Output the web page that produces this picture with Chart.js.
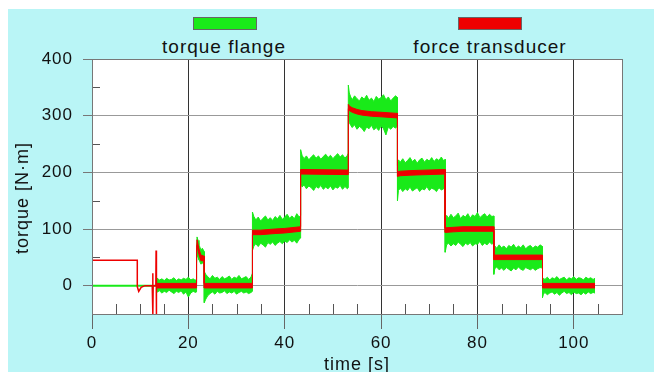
<!DOCTYPE html>
<html>
<head>
<meta charset="utf-8">
<script src="https://cdn.jsdelivr.net/npm/chart.js@4"></script>
<style>
  html, body { margin: 0; padding: 0; background: #fff; width: 654px; height: 372px; overflow: hidden; }
  #panel { position: absolute; left: 8px; top: 9px; width: 646px; height: 363px; background: #b9f5f6; overflow: hidden; }
  #wrap { position: absolute; left: 0; top: 0; width: 646px; height: 367px; }
  .key { position: absolute; width: 62px; height: 11px; border: 1px solid #666; }
  .label { position: absolute; font: 19px/19px "Liberation Sans", Arial, sans-serif; letter-spacing: 1px; color: #111; white-space: nowrap; transform: translateX(-50%); }
  .ytitle { position: absolute; left: 14px; top: 189px; font: 18px/18px "Liberation Sans", Arial, sans-serif; letter-spacing: 1px; color: #111; white-space: nowrap; transform: translate(-50%, -50%) rotate(-90deg); z-index: 2; }
</style>
</head>
<body>
<div id="panel">
  <div class="key" style="left:185px;top:8px;background:#19ea19"></div>
  <div class="label" style="left:216px;top:28px">torque flange</div>
  <div class="key" style="left:450px;top:8px;background:#ee0000"></div>
  <div class="label" style="left:482px;top:28px">force transducer</div>
  <div id="wrap"><canvas id="chart"></canvas></div>
  <div class="ytitle">torque [N·m]</div>
</div>
<script>
(() => {
    const xTicks = [0, 20, 40, 60, 80, 100];
    const yTicks = [0, 100, 200, 300, 400];

    // start of the run, before the noisy steps
    const redLeadT = [0, 9.4, 9.4, 9.7, 10.2, 11, 12.5, 12.6, 12.65, 12.7, 13.25, 13.3, 13.35, 13.4];
    const redLeadV = [45, 45, -2, -10, -3, 0, 0, 22, -50, 0, 0, 62, -50, 0];
    const greenLeadT = [0, 13.3];
    const greenLeadV = [0, 0];

    // torque flange: upper / lower edge of the noise band
    const greenT = [
        13.4, 14, 14.5, 15, 15.5, 16, 16.5, 17, 17.5, 18, 18.5, 19, 19.5, 20, 20.5, 21, 21.5, 21.7,
        21.7, 21.8, 22.0, 22.2, 22.4, 22.6, 22.9, 23.3,
        23.3, 23.6, 24, 24.5, 25, 25.5, 26, 26.5, 27, 27.5, 28, 28.5, 29, 29.5, 30, 30.5, 31, 31.5, 32, 32.5, 33, 33.3,
        33.3, 33.6, 34, 34.5, 35, 35.5, 36, 36.5, 37, 37.5, 38, 38.5, 39, 39.5, 40, 40.5, 41, 41.5, 42, 42.5, 43, 43.3,
        43.3, 43.6, 44, 44.5, 45, 45.5, 46, 46.5, 47, 47.5, 48, 48.5, 49, 49.5, 50, 50.5, 51, 51.5, 52, 52.5, 53, 53.2,
        53.2, 53.4, 53.7, 54, 54.5, 55, 55.5, 56, 56.5, 57, 57.5, 58, 58.5, 59, 59.5, 60, 60.5, 61, 61.5, 62, 62.5, 63, 63.4,
        63.4, 63.6, 64, 64.5, 65, 65.5, 66, 66.5, 67, 67.5, 68, 68.5, 69, 69.5, 70, 70.5, 71, 71.5, 72, 72.5, 73, 73.3,
        73.3, 73.6, 74, 74.5, 75, 75.5, 76, 76.5, 77, 77.5, 78, 78.5, 79, 79.5, 80, 80.5, 81, 81.5, 82, 82.5, 83, 83.4,
        83.4, 83.6, 84, 84.5, 85, 85.5, 86, 86.5, 87, 87.5, 88, 88.5, 89, 89.5, 90, 90.5, 91, 91.5, 92, 92.5, 93, 93.5,
        93.5, 93.7, 94, 94.5, 95, 95.5, 96, 96.5, 97, 97.5, 98, 98.5, 99, 99.5, 100, 100.5, 101, 101.5, 102, 102.5, 103, 103.5, 104, 104.4
    ];
    const greenHi = [
        14, 10, 12, 9, 13, 10, 11, 14, 9, 12, 10, 13, 11, 15, 10, 12, 9, 13,
        60, 86, 80, 72, 68, 63, 66, 60,
        25, 20, 16, 12, 18, 13, 15, 11, 16, 12, 14, 17, 11, 15, 13, 18, 12, 14, 16, 11, 15, 22,
        130, 122, 116, 121, 114, 119, 123, 116, 120, 115, 122, 118, 124, 117, 121, 126, 119, 123, 118, 127, 121, 124,
        240, 230, 224, 229, 222, 227, 231, 225, 229, 223, 228, 232, 226, 230, 224, 229, 233, 227, 231, 225, 230, 234,
        354, 340, 333, 328, 335, 330, 326, 333, 329, 336, 327, 331, 325, 334, 329, 332, 337, 328, 333, 326, 331, 335, 332,
        212, 222, 218, 224, 217, 221, 226, 219, 223, 216, 222, 225, 218, 223, 220, 226, 219, 224, 221, 227, 220, 223,
        112, 124, 119, 126, 120, 123, 128, 118, 124, 121, 127, 119, 125, 122, 129, 120, 124, 127, 121, 126, 122, 123,
        62, 70, 66, 72, 67, 70, 65, 71, 68, 73, 66, 70, 67, 72, 65, 69, 71, 66, 70, 68, 72, 69,
        8, 13, 11, 15, 10, 14, 12, 16, 11, 13, 15, 10, 14, 12, 16, 11, 14, 13, 10, 15, 12, 14, 11, 13
    ];
    const greenLo = [
        -12, -9, -13, -10, -12, -8, -11, -14, -10, -12, -9, -15, -11, -20, -13, -10, -12, -11,
        40, 55, 50, 46, 42, 38, 40, 37,
        -30, -24, -18, -14, -11, -15, -10, -13, -12, -9, -14, -11, -13, -10, -15, -12, -10, -13, -11, -14, -12, -10,
        62, 70, 74, 69, 75, 72, 68, 76, 73, 77, 71, 75, 78, 74, 79, 76, 81, 77, 80, 75, 82, 84,
        185, 174, 178, 171, 176, 173, 168, 175, 172, 177, 170, 174, 171, 176, 169, 174, 172, 177, 170, 175, 171, 173,
        300, 288, 283, 279, 284, 276, 281, 278, 272, 280, 277, 283, 275, 279, 274, 282, 277, 266, 280, 276, 281, 278, 282,
        150, 168, 172, 166, 171, 168, 174, 167, 170, 173, 166, 171, 169, 175, 168, 172, 170, 166, 173, 169, 171, 174,
        59, 72, 75, 70, 74, 71, 77, 73, 69, 75, 72, 76, 70, 74, 73, 78, 71, 75, 72, 77, 73, 76,
        20, 30, 33, 28, 31, 27, 32, 29, 26, 31, 28, 33, 29, 27, 32, 30, 28, 31, 27, 30, 32, 31,
        -21, -15, -12, -16, -13, -11, -15, -12, -17, -13, -10, -14, -12, -16, -11, -14, -13, -16, -12, -15, -11, -14, -12, -13
    ];

    // force transducer: narrow band
    const redT = [
        13.4, 21.7,
        21.7, 21.8, 22.2, 22.6, 23.3,
        23.3, 33.3,
        33.3, 35, 38, 40, 43.3,
        43.3, 53.2,
        53.2, 53.4, 54, 55, 56, 58, 60, 63.4,
        63.4, 64, 66, 73.3,
        73.3, 75, 77, 83.4,
        83.4, 93.5,
        93.5, 104.4
    ];
    const redHi = [
        4, 4,
        61, 81, 65, 54, 52,
        4, 4,
        98, 98, 100, 101, 104,
        205, 204,
        320, 317, 314, 311, 309, 307, 306, 304,
        201, 202, 203, 205,
        102, 103, 104, 104,
        54, 54,
        4, 4
    ];
    const redLo = [
        -4, -4,
        51, 71, 55, 44, 44,
        -4, -4,
        90, 90, 92, 93, 96,
        197, 196,
        312, 309, 306, 303, 301, 299, 298, 296,
        193, 194, 195, 197,
        94, 95, 96, 96,
        46, 46,
        -4, -4
    ];

    const GREEN = "#19ea19";
    const RED = "#ee0000";
    const TICK_FONT = { family: "'Liberation Sans', Arial, sans-serif", size: 17 };
    const TITLE_FONT = { family: "'Liberation Sans', Arial, sans-serif", size: 18 };

    const pts = (xs, ys) => xs.map((x, i) => ({ x, y: ys[i] }));

    const line = (data, color, fill, width) => ({
        data,
        borderColor: color,
        backgroundColor: color,
        borderWidth: width,
        pointRadius: 0,
        tension: 0,
        fill
    });

    const plotFrame = {
        id: "plotFrame",
        beforeDraw(chart) {
            const { ctx, chartArea: a } = chart;
            ctx.letterSpacing = "1px";
            ctx.save();
            ctx.fillStyle = "#fff";
            ctx.fillRect(a.left, a.top, a.right - a.left, a.bottom - a.top);
            ctx.restore();
        },
        beforeDatasetsDraw(chart) {
            const { ctx, chartArea: a, scales } = chart;
            ctx.save();
            ctx.strokeStyle = "#555";
            ctx.lineWidth = 1;
            ctx.beginPath();
            for (let v = 5; v < 110; v += 5) {
                if (v % 20 === 0) continue;
                const px = Math.round(scales.x.getPixelForValue(v)) + 0.5;
                ctx.moveTo(px, a.bottom);
                ctx.lineTo(px, a.bottom - 10);
            }
            for (let v = 50; v < 400; v += 100) {
                const py = Math.round(scales.y.getPixelForValue(v)) + 0.5;
                ctx.moveTo(a.left, py);
                ctx.lineTo(a.left + 8, py);
            }
            ctx.stroke();
            ctx.restore();
        },
        afterDraw(chart) {
            const { ctx, chartArea: a } = chart;
            ctx.save();
            ctx.strokeStyle = "#777";
            ctx.lineWidth = 1;
            ctx.strokeRect(Math.round(a.left) + 0.5, Math.round(a.top) + 0.5,
                Math.round(a.right - a.left), Math.round(a.bottom - a.top));
            ctx.restore();
        }
    };

    new Chart(document.getElementById("chart"), {
        type: "line",
        data: {
            datasets: [
                line(pts(redLeadT, redLeadV), RED, false, 1.5),
                line(pts(redT, redHi), RED, "+1", 1),
                line(pts(redT, redLo), RED, false, 1),
                line(pts(greenLeadT, greenLeadV), GREEN, false, 2),
                line(pts(greenT, greenHi), GREEN, "+1", 1),
                line(pts(greenT, greenLo), GREEN, false, 1)
            ]
        },
        options: {
            responsive: true,
            maintainAspectRatio: false,
            animation: false,
            layout: { padding: { left: 0, right: 32, top: 50, bottom: 0 } },
            plugins: {
                legend: { display: false },
                tooltip: { enabled: false }
            },
            scales: {
                x: {
                    type: "linear",
                    min: 0,
                    max: 110,
                    afterBuildTicks: (s) => { s.ticks = xTicks.map(v => ({ value: v })); },
                    afterFit: (s) => { s.height = 62; },
                    grid: { color: "#333", tickColor: "#666", tickLength: 15 },
                    border: { color: "#777" },
                    ticks: { font: TICK_FONT, color: "#111", padding: 4, maxRotation: 0 },
                    title: { display: true, text: "time [s]", font: TITLE_FONT, color: "#111", padding: { top: 0, bottom: 0 } }
                },
                y: {
                    min: -50,
                    max: 400,
                    afterBuildTicks: (s) => { s.ticks = yTicks.map(v => ({ value: v })); },
                    afterFit: (s) => { s.width = 84; },
                    grid: { color: "#999", tickColor: "#777", tickLength: 9 },
                    border: { color: "#777" },
                    ticks: { font: TICK_FONT, color: "#111", padding: 10 }
                }
            }
        },
        plugins: [plotFrame]
    });
})();
</script>
</body>
</html>
